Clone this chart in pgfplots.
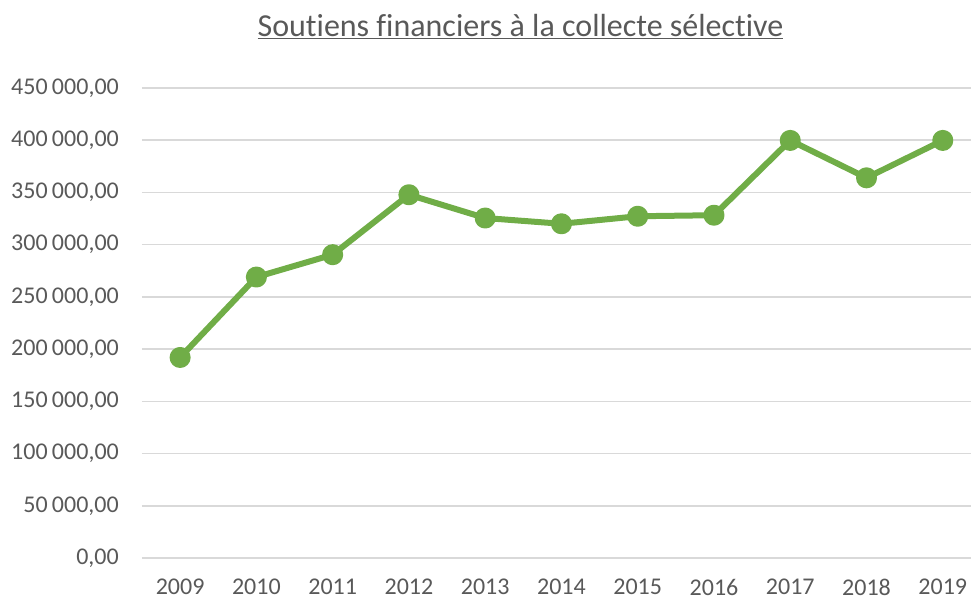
\documentclass[border=0pt]{standalone}
\usepackage{pgfplots}
\pgfplotsset{compat=1.18}
\usepackage{fontspec}
\setmainfont{Carlito}[Ligatures={NoCommon}]
\definecolor{txtgrey}{HTML}{595959}
\definecolor{gridgrey}{HTML}{D9D9D9}
\definecolor{linegreen}{HTML}{70AD47}
\begin{document}
\begin{tikzpicture}
\path[use as bounding box] (-142pt,-43pt) rectangle (829pt,558pt);
\begin{axis}[
  scale only axis,
  width=829pt, height=470pt,
  at={(0pt,0pt)}, anchor=south west,
  xmin=-0.5, xmax=10.37,
  ymin=0, ymax=450000,
  ytick={0,50000,...,450000},
  xtick={0,...,10},
  xticklabels={2009,2010,2011,2012,2013,2014,2015,2016,2017,2018,2019},
  scaled y ticks=false,
  axis line style={draw=none},
  major tick length=0pt,
  ymajorgrids,
  grid style={gridgrey, line width=1.5pt},
  tick label style={font=\fontsize{24}{28}\selectfont, text=txtgrey},
  yticklabel style={anchor=east, inner sep=0pt, xshift=-23pt,
    /pgf/number format/.cd, fixed, fixed zerofill, precision=2, use comma, 1000 sep={\kern0.18em}, assume math mode=true},
  xticklabel style={anchor=north, inner sep=0pt, yshift=-21pt},
  clip=false,
]
\addplot[linegreen, line width=6pt, line join=round, mark=*, mark size=7.5pt, mark options={fill=linegreen, draw=none}]
coordinates {
(0,192000) (1,269000) (2,290400) (3,347800) (4,325500) (5,320000)
(6,327200) (7,328200) (8,399800) (9,364000) (10,399800)
};
\end{axis}
\node[anchor=base, text=txtgrey, font=\fontsize{32}{36}\selectfont, inner sep=0pt] at (378.5pt,521pt) {\underline{Soutiens financiers à la collecte sélective}};
\end{tikzpicture}
\end{document}
